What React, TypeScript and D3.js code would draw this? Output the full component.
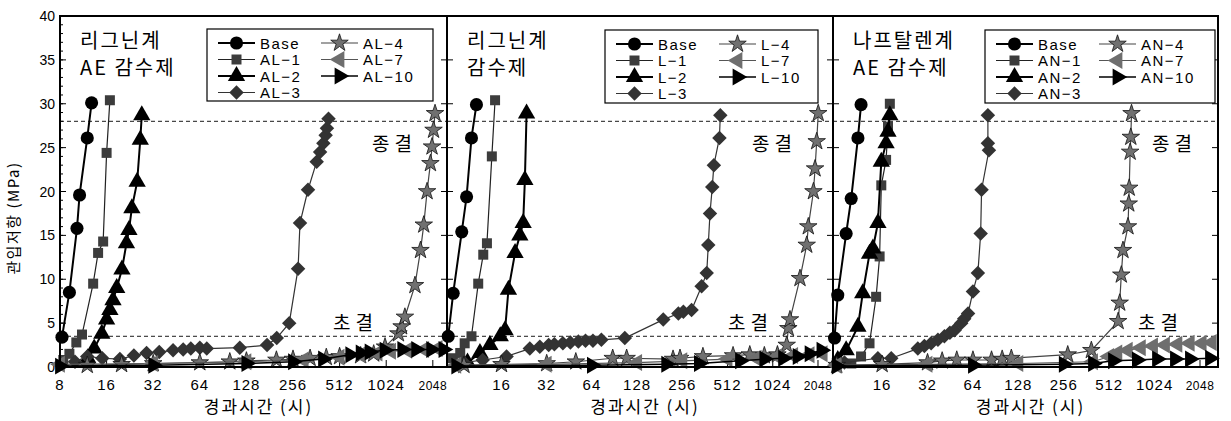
import { useEffect, useRef } from "react";
import * as d3 from "d3";

type Pt = [number, number];

// axes
const Y_TICKS = [0, 5, 10, 15, 20, 25, 30, 35, 40];
const X_TICKS_FIRST = [8, 16, 32, 64, 128, 256, 512, 1024, 2048];
const X_TICKS_REST = [16, 32, 64, 128, 256, 512, 1024, 2048];
const INITIAL_SET = 3.5; // 초결
const FINAL_SET = 28; // 종결

// series names per panel
const AL_NAMES = ["Base", "AL−1", "AL−2", "AL−3", "AL−4", "AL−7", "AL−10"];
const L_NAMES = ["Base", "L−1", "L−2", "L−3", "L−4", "L−7", "L−10"];
const AN_NAMES = ["Base", "AN−1", "AN−2", "AN−3", "AN−4", "AN−7", "AN−10"];

// panel 1: 리그닌계 AE 감수제  [hours, MPa]
const AL_BASE: Pt[] = [[8.24, 3.4], [9.2, 8.5], [10.3, 15.8], [10.7, 19.6], [12.0, 26.1], [12.8, 30.1]];
const AL_1: Pt[] = [[8.4, 0.8], [9.2, 1.5], [10.2, 2.8], [11.1, 3.7], [13.1, 9.5], [14.1, 13.0], [15.2, 14.3], [16.0, 24.4], [16.8, 30.4]];
const AL_2: Pt[] = [[12.1, 1.0], [13.3, 2.1], [14.9, 3.8], [16.0, 5.4], [16.8, 6.5], [17.6, 7.6], [18.6, 9.0], [20.1, 11.1], [21.5, 14.1], [22.3, 15.6], [23.3, 18.1], [25.2, 21.1], [26.4, 25.9], [27.0, 28.7]];
const AL_3: Pt[] = [[10, 0.6], [12, 1.2], [15, 1.0], [19.5, 0.9], [24, 1.3], [29, 1.6], [35, 1.7], [43, 1.9], [50, 2.0], [56, 2.1], [64, 2.2], [71, 2.1], [116, 2.2], [174, 2.5], [201, 3.3], [242, 5.0], [276, 11.2], [284, 16.4], [320, 20.2], [364, 23.4], [383, 24.5], [402, 25.5], [416, 26.4], [424, 27.2], [434, 28.3]];
const AL_4: Pt[] = [[12, 0.2], [20, 0.3], [32, 0.4], [64, 0.5], [100, 0.6], [128, 0.7], [200, 0.8], [256, 0.9], [330, 1.0], [420, 1.1], [512, 1.2], [700, 1.3], [850, 1.5], [1006, 2.3], [1228, 3.8], [1287, 4.6], [1352, 5.7], [1570, 9.3], [1705, 13.3], [1790, 16.2], [1880, 20.0], [1976, 23.2], [2024, 25.1], [2070, 27.0], [2117, 28.9]];
const AL_7: Pt[] = [[8, 0.3], [32, 0.4], [128, 0.6], [300, 0.8], [512, 1.1], [700, 1.4], [900, 1.6], [1100, 1.8], [1400, 1.9], [1800, 2.0], [2200, 2.1]];
const AL_10: Pt[] = [[8, 0.1], [32, 0.2], [128, 0.4], [256, 0.6], [400, 0.9], [600, 1.4], [700, 1.6], [800, 1.7], [1000, 1.9], [1300, 2.0], [1600, 2.0], [2000, 2.0], [2400, 2.0]];

// panel 2: 리그닌계 감수제
const L_BASE: Pt[] = [[7.07, 3.5], [7.63, 8.4], [8.7, 15.4], [9.37, 19.4], [10.1, 26.1], [10.9, 29.9]];
const L_1: Pt[] = [[7.6, 1.0], [8.5, 1.6], [9.1, 2.7], [10.1, 3.5], [11.2, 9.5], [12.1, 12.8], [12.8, 14.1], [13.8, 24.0], [14.5, 30.4]];
const L_2: Pt[] = [[9.5, 0.5], [11.5, 1.6], [13.4, 2.5], [15.7, 3.5], [16.9, 4.2], [17.8, 8.8], [19.7, 13.0], [21.2, 15.0], [22.3, 16.4], [22.9, 21.3], [23.5, 28.9]];
const L_3: Pt[] = [[9, 0.5], [12, 0.8], [17.3, 1.2], [24.7, 2.1], [28.8, 2.3], [33, 2.5], [36, 2.6], [41, 2.7], [46, 2.8], [52, 2.9], [58, 3.0], [65, 3.0], [74, 3.1], [106, 3.3], [191, 5.4], [241, 6.1], [260, 6.3], [295, 6.5], [344, 9.2], [372, 10.7], [381, 13.9], [391, 17.5], [405, 20.5], [415, 23.0], [452, 26.1], [458, 28.7]];
const L_4: Pt[] = [[9, 0.2], [16, 0.3], [32, 0.4], [50, 0.6], [88, 1.0], [109, 1.0], [222, 0.9], [247, 1.0], [351, 1.2], [557, 1.3], [720, 1.4], [900, 1.3], [1100, 1.4], [1268, 2.5], [1300, 4.4], [1333, 5.4], [1554, 10.1], [1723, 13.9], [1765, 16.0], [1910, 20.0], [1958, 22.6], [2008, 25.7], [2056, 28.9]];
const L_7: Pt[] = [[8, 0.2], [32, 0.3], [128, 0.5], [256, 0.7], [512, 0.9], [800, 1.0], [1100, 1.2], [1400, 1.3], [1800, 1.4], [2200, 1.5]];
const L_10: Pt[] = [[8, 0.1], [64, 0.2], [200, 0.3], [330, 0.4], [620, 0.7], [900, 0.9], [1200, 1.0], [1500, 1.2], [1800, 1.5], [2160, 1.9]];

// panel 3: 나프탈렌계 AE 감수제
const AN_BASE: Pt[] = [[7.74, 3.3], [8.13, 8.2], [9.24, 15.2], [9.98, 19.2], [11.06, 26.1], [11.6, 29.9]];
const AN_1: Pt[] = [[10.0, 0.4], [11.6, 1.2], [13.2, 2.7], [14.6, 8.0], [15.4, 12.6], [15.8, 20.7], [17.0, 23.6], [17.5, 27.4], [18.0, 30.0]];
const AN_2: Pt[] = [[8.13, 0.8], [9.24, 1.9], [11.06, 4.6], [11.9, 8.4], [13.2, 12.9], [13.9, 13.5], [15.0, 16.4], [15.8, 23.4], [17.0, 25.5], [17.5, 26.8], [18.0, 28.7]];
const AN_3: Pt[] = [[9, 0.5], [15.0, 1.0], [18.4, 1.0], [27.6, 2.1], [30.5, 2.4], [33.8, 2.7], [37.5, 3.1], [41.4, 3.5], [45, 3.9], [48.4, 4.2], [53.5, 5.0], [56, 5.5], [59.4, 6.1], [64, 8.6], [69, 10.7], [72, 15.2], [73, 20.2], [81.7, 24.7], [80.4, 25.5], [80.4, 28.7]];
const AN_4: Pt[] = [[8, 0.2], [16, 0.3], [32, 0.5], [40, 0.7], [50, 0.8], [64, 0.8], [85, 0.8], [100, 0.9], [115, 1.0], [272, 1.4], [390, 1.9], [587, 5.2], [601, 7.3], [616, 10.5], [632, 13.3], [682, 16.0], [690, 18.6], [695, 20.4], [705, 24.5], [712, 26.2], [720, 28.9]];
const AN_7: Pt[] = [[8, 0.2], [32, 0.3], [128, 0.4], [400, 0.6], [512, 1.2], [580, 1.6], [680, 1.9], [830, 2.2], [1000, 2.4], [1200, 2.5], [1450, 2.6], [1750, 2.7], [2100, 2.7], [2450, 2.8]];
const AN_10: Pt[] = [[8, 0.1], [64, 0.2], [256, 0.3], [400, 0.4], [543, 0.7], [782, 0.8], [1063, 0.9], [1398, 0.9], [1757, 0.9], [2386, 1.0]];

// marker / line looks, one per series index
const STYLES = [
  { shape: "circle", fill: "#000", line: "#000", lw: 2 },
  { shape: "square", fill: "#3c3c3c", line: "#222", lw: 1.2 },
  { shape: "up", fill: "#000", line: "#000", lw: 2 },
  { shape: "diamond", fill: "#333", line: "#333", lw: 1.2 },
  { shape: "star", fill: "#707070", line: "#444", lw: 1.2 },
  { shape: "left", fill: "#6e6e6e", line: "#555", lw: 1.2 },
  { shape: "right", fill: "#000", line: "#000", lw: 1.5 },
];

const KFONT = "'Noto Sans CJK KR', sans-serif";
const LFONT = "'Liberation Sans', Arial, sans-serif";

const PANELS = [
  { x0: 60, x1: 447, domain: [8, 2529], ticks: X_TICKS_FIRST, title: ["리그닌계", "AE 감수제"], names: AL_NAMES, series: [AL_BASE, AL_1, AL_2, AL_3, AL_4, AL_7, AL_10], legend: [207, 29, 226, 72], finalX: 372, initX: 333 },
  { x0: 447, x1: 833, domain: [6.94, 2578], ticks: X_TICKS_REST, title: ["리그닌계", "감수제"], names: L_NAMES, series: [L_BASE, L_1, L_2, L_3, L_4, L_7, L_10], legend: [605, 30, 213, 73], finalX: 752, initX: 728 },
  { x0: 833, x1: 1218, domain: [7.56, 2695], ticks: X_TICKS_REST, title: ["나프탈렌계", "AE 감수제"], names: AN_NAMES, series: [AN_BASE, AN_1, AN_2, AN_3, AN_4, AN_7, AN_10], legend: [985, 30, 230, 73], finalX: 1152, initX: 1138 },
];

function markerPath(shape: string): { d: string; rot: number } {
  const s = d3.symbol();
  switch (shape) {
    case "circle": return { d: s.type(d3.symbolCircle).size(135)()!, rot: 0 };
    case "square": return { d: s.type(d3.symbolSquare).size(100)()!, rot: 0 };
    case "up": return { d: s.type(d3.symbolTriangle).size(130)()!, rot: 0 };
    case "diamond": return { d: s.type(d3.symbolSquare).size(105)()!, rot: 45 };
    case "star": return { d: s.type(d3.symbolStar).size(95)()!, rot: 0 };
    case "left": return { d: s.type(d3.symbolTriangle).size(125)()!, rot: -90 };
    default: return { d: s.type(d3.symbolTriangle).size(125)()!, rot: 90 };
  }
}

export default function App() {
  const svgRef = useRef<SVGSVGElement>(null);

  useEffect(() => {
    if (!svgRef.current) return;
    const svg = d3.select(svgRef.current);
    svg.selectAll("*").remove();

    const top = 16, bottom = 367;
    const y = d3.scaleLinear().domain([0, 40]).range([bottom, top]);

    // y axis label + tick labels (first panel only)
    svg.append("text")
      .attr("transform", `translate(19,218) rotate(-90)`)
      .attr("text-anchor", "middle")
      .attr("font-family", KFONT).attr("font-size", 15).attr("letter-spacing", 1.5)
      .text("관입저항 (MPa)");

    svg.append("g").selectAll("text").data(Y_TICKS).enter().append("text")
      .attr("x", 55).attr("y", d => y(d) + 5)
      .attr("text-anchor", "end")
      .attr("font-family", LFONT).attr("font-size", 14)
      .text(d => d);

    PANELS.forEach((p, pi) => {
      const x = d3.scaleLog().base(2).domain(p.domain).range([p.x0, p.x1]);
      const g = svg.append("g");

      // minor y ticks on the outer left edge
      if (pi === 0) {
        g.append("g").selectAll("line").data(d3.range(0, 41)).enter().append("line")
          .attr("x1", p.x0).attr("x2", p.x0 + 3)
          .attr("y1", d => y(d)).attr("y2", d => y(d))
          .attr("stroke", "#000").attr("stroke-width", 1);
      }
      // major y ticks, inward on both sides
      g.append("g").selectAll("line").data(Y_TICKS).enter().append("line")
        .attr("x1", p.x0).attr("x2", p.x0 + 6)
        .attr("y1", d => y(d)).attr("y2", d => y(d))
        .attr("stroke", "#000").attr("stroke-width", 1);
      g.append("g").selectAll("line").data(Y_TICKS).enter().append("line")
        .attr("x1", p.x1).attr("x2", p.x1 - 6)
        .attr("y1", d => y(d)).attr("y2", d => y(d))
        .attr("stroke", "#000").attr("stroke-width", 1);

      // x ticks (inward) + labels
      g.append("g").selectAll("line").data(X_TICKS_FIRST).enter().append("line")
        .attr("x1", d => x(d)).attr("x2", d => x(d))
        .attr("y1", bottom).attr("y2", bottom - 7)
        .attr("stroke", "#000").attr("stroke-width", 1);
      g.append("g").selectAll("text").data(p.ticks).enter().append("text")
        .attr("x", d => x(d)).attr("y", 390)
        .attr("text-anchor", "middle")
        .attr("font-family", LFONT)
        .attr("font-size", d => (d === 2048 ? 12 : 15))
        .attr("letter-spacing", d => (d === 2048 ? 0.5 : 1))
        .text(d => d);

      g.append("text")
        .attr("x", (p.x0 + p.x1) / 2 + 5).attr("y", 413)
        .attr("text-anchor", "middle")
        .attr("font-family", KFONT).attr("font-size", 17).attr("letter-spacing", 2)
        .text("경과시간 (시)");

      // setting lines
      [FINAL_SET, INITIAL_SET].forEach(v => {
        g.append("line")
          .attr("x1", p.x0).attr("x2", p.x1)
          .attr("y1", y(v)).attr("y2", y(v))
          .attr("stroke", "#000").attr("stroke-width", 0.9)
          .attr("stroke-dasharray", "4,3");
      });

      // titles
      p.title.forEach((t, i) => {
        g.append("text")
          .attr("x", p.x0 + 20).attr("y", 48 + i * 27)
          .attr("font-family", KFONT).attr("font-size", 20).attr("letter-spacing", 2)
          .text(t);
      });
      g.append("text")
        .attr("x", p.finalX).attr("y", 151)
        .attr("font-family", KFONT).attr("font-size", 19).attr("letter-spacing", 5)
        .text("종결");
      g.append("text")
        .attr("x", p.initX).attr("y", 330)
        .attr("font-family", KFONT).attr("font-size", 19).attr("letter-spacing", 5)
        .text("초결");

      // series
      const line = d3.line<Pt>().x(d => x(d[0])).y(d => y(d[1]));
      p.series.forEach((data, si) => {
        const st = STYLES[si];
        const m = markerPath(st.shape);
        const sg = g.append("g");
        sg.append("path")
          .attr("d", line(data))
          .attr("fill", "none").attr("stroke", st.line).attr("stroke-width", st.lw);
        sg.selectAll("path.m").data(data).enter().append("path")
          .attr("class", "m")
          .attr("d", m.d)
          .attr("transform", d => `translate(${x(d[0])},${y(d[1])}) rotate(${m.rot})`)
          .attr("fill", st.fill)
          .attr("stroke", st.shape === "star" ? "#111" : "none")
          .attr("stroke-width", 0.8);
      });

      // legend
      const [lx, ly, lw, lh] = p.legend;
      const lg = g.append("g");
      lg.append("rect")
        .attr("x", lx).attr("y", ly).attr("width", lw).attr("height", lh)
        .attr("fill", "#fff").attr("stroke", "#000").attr("stroke-width", 1.2);
      const colX = [lx + 11, lx + 114];
      p.names.forEach((name, i) => {
        const col = i < 4 ? 0 : 1;
        const row = i < 4 ? i : i - 4;
        const cx = colX[col];
        const cy = ly + 14 + row * 16.5;
        const st = STYLES[i];
        const m = markerPath(st.shape);
        lg.append("line")
          .attr("x1", cx).attr("x2", cx + 37).attr("y1", cy).attr("y2", cy)
          .attr("stroke", st.line).attr("stroke-width", st.lw);
        lg.append("path")
          .attr("d", m.d)
          .attr("transform", `translate(${cx + 18.5},${cy}) rotate(${m.rot})`)
          .attr("fill", st.fill)
          .attr("stroke", st.shape === "star" ? "#111" : "none")
          .attr("stroke-width", 0.8);
        lg.append("text")
          .attr("x", cx + 42).attr("y", cy + 5.5)
          .attr("font-family", LFONT).attr("font-size", 15).attr("letter-spacing", 1.5)
          .text(name);
      });

      // frame
      g.append("rect")
        .attr("x", p.x0).attr("y", top).attr("width", p.x1 - p.x0).attr("height", bottom - top)
        .attr("fill", "none").attr("stroke", "#000").attr("stroke-width", 2);
    });
  }, []);

  return (
    <div style={{ position: "absolute", left: 0, top: 0 }}>
      <svg ref={svgRef} width={1231} height={421} style={{ display: "block", background: "#fff" }}></svg>
    </div>
  );
}
